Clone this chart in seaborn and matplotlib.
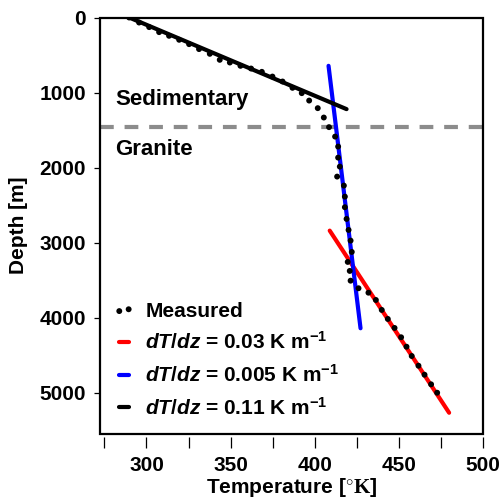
import matplotlib
matplotlib.use("Agg")
import matplotlib.pyplot as plt
import seaborn as sns
import pandas as pd
import numpy as np
from matplotlib.patches import Rectangle

# ---- data ----
meas_temp = [289.7, 295.6, 301.6, 307.5, 313.4, 319.4, 325.3, 331.2, 337.6, 343.5,
             349.5, 355.8, 362.1, 368.5, 374.8, 380.8, 386.7, 392.2, 396.6, 401.7,
             405.3, 408.4, 412.0, 413.8, 413.8, 414.8, 413.2, 417.2, 417.8,
             417.8, 418.8, 420.0, 421.2, 421.9, 419.5, 420.7, 421.2, 425.9, 431.8,
             436.2, 439.7, 443.3, 447.3, 451.2, 454.4, 457.5, 461.5, 465.1, 469.0, 472.6]
meas_depth = [0, 67, 128, 195, 244, 297, 355, 421, 484, 564,
              600, 644, 680, 724, 787, 853, 937, 1008, 1107, 1208,
              1333, 1461, 1587, 1720, 1867, 1987, 2120, 2240, 2387,
              2528, 2684, 2831, 2973, 3124, 3257, 3377, 3507, 3608, 3667,
              3764, 3897, 4017, 4137, 4261, 4387, 4511, 4640, 4760, 4888, 5000]

fit_sed_temp = [289.7, 418.8]
fit_sed_depth = [0, 1221]
fit_gran_temp = [408.1, 427.1]
fit_gran_depth = [644, 4141]
fit_deep_temp = [408.8, 479.7]
fit_deep_depth = [2840, 5267]

boundary_depth = 1453
label_sed = "Sedimentary"
label_gran = "Granite"
legend_labels = ["Measured",
                 r"$\mathit{dT}$$\mathit{/}$$\mathit{dz}$ = 0.03 K m$^{\mathregular{-1}}$",
                 r"$\mathit{dT}$$\mathit{/}$$\mathit{dz}$ = 0.005 K m$^{\mathregular{-1}}$",
                 r"$\mathit{dT}$$\mathit{/}$$\mathit{dz}$ = 0.11 K m$^{\mathregular{-1}}$"]
x_major = [300, 350, 400, 450, 500]
x_minor = [275, 325, 375, 425, 475]
y_major = [0, 1000, 2000, 3000, 4000, 5000]

# ---- style ----
sns.set_style("white")
plt.rcParams['font.family'] = ['Liberation Sans', 'DejaVu Sans']
plt.rcParams['font.weight'] = 'bold'
plt.rcParams['text.color'] = 'black'
plt.rcParams['axes.labelcolor'] = 'black'
plt.rcParams['xtick.color'] = 'black'
plt.rcParams['ytick.color'] = 'black'
plt.rcParams['mathtext.fontset'] = 'custom'
plt.rcParams['mathtext.it'] = 'Liberation Sans:bold:italic'
plt.rcParams['mathtext.rm'] = 'Liberation Sans:bold'
plt.rcParams['mathtext.bf'] = 'Liberation Serif:bold'
plt.rcParams['mathtext.default'] = 'rm'

fig = plt.figure(figsize=(5.02, 5.0), dpi=100)
ax = fig.add_axes([100/502, 66/500, 383.3/502, 416.5/500])

df_meas = pd.DataFrame({"T": meas_temp, "z": meas_depth})
df_deep = pd.DataFrame({"T": fit_deep_temp, "z": fit_deep_depth})
df_gran = pd.DataFrame({"T": fit_gran_temp, "z": fit_gran_depth})
df_sed = pd.DataFrame({"T": fit_sed_temp, "z": fit_sed_depth})

ax.axhline(boundary_depth, color='#8c8c8c', lw=3, ls=(0, (3.3, 2.6)), zorder=1)

sns.lineplot(data=df_deep, x="T", y="z", ax=ax, color='#ff0000', lw=3,
             sort=False, estimator=None, label=legend_labels[1], zorder=3)
sns.lineplot(data=df_gran, x="T", y="z", ax=ax, color='#0000ff', lw=3,
             sort=False, estimator=None, label=legend_labels[2], zorder=3)
sns.lineplot(data=df_sed, x="T", y="z", ax=ax, color='black', lw=3,
             sort=False, estimator=None, label=legend_labels[3], zorder=3)
sns.scatterplot(data=df_meas, x="T", y="z", ax=ax, color='black', s=18,
                edgecolor='none', label=legend_labels[0], zorder=4)

ax.set_xlim(272.4, 500)
ax.set_ylim(5550, 0)

ax.set_xticks(x_major)
ax.set_xticks(x_minor, minor=True)
ax.set_yticks(y_major)

for s in ax.spines.values():
    s.set_visible(False)
ax.spines['bottom'].set_position(('outward', 2.5))
ax.add_patch(Rectangle((0, 0), 1, 1, transform=ax.transAxes, fill=False,
                       lw=1.6, ec='black', clip_on=False, zorder=10))

ax.tick_params(axis='x', which='both', direction='out', length=8, width=0.9,
               color='black', bottom=True, pad=5, labelsize=15)
ax.tick_params(axis='y', which='both', direction='out', length=4, width=0.9,
               color='black', left=True, pad=6, labelsize=15)
for lab in ax.get_xticklabels() + ax.get_yticklabels():
    lab.set_fontweight('bold')

ax.set_xlabel(r"Temperature [$\mathbf{^{\circ}K}$]", fontsize=15, fontweight='bold', labelpad=1)
ax.set_ylabel("Depth [m]", fontsize=15, fontweight='bold', labelpad=8)

ax.text(281.6, 1097, label_sed, fontsize=16, fontweight='bold', va='center', ha='left')
ax.text(281.6, 1764, label_gran, fontsize=16, fontweight='bold', va='center', ha='left')

handles, labels = ax.get_legend_handles_labels()
order = [labels.index(l) for l in legend_labels]
leg = ax.legend([handles[i] for i in order], [labels[i] for i in order],
                loc='upper left', bbox_to_anchor=(0.034, 0.318), frameon=False,
                borderpad=0, borderaxespad=0, handlelength=1.05, handletextpad=0.5,
                labelspacing=0.52, numpoints=2, scatterpoints=2,
                prop={'size': 15, 'weight': 'bold'})

fig.savefig("out.png", dpi=100)
